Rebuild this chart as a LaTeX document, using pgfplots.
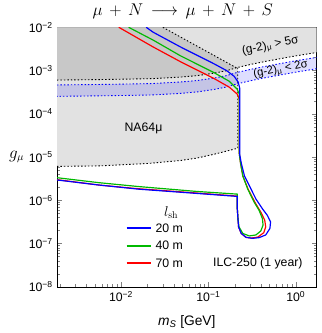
\documentclass[border=0pt]{standalone}
\usepackage{pgfplots}
\pgfplotsset{compat=1.18}
\usepackage[no-math]{fontspec}
\setmainfont{Liberation Sans}
\definecolor{cgreen}{RGB}{0,185,0}
\definecolor{cblue}{RGB}{0,0,255}
\definecolor{cred}{RGB}{255,0,0}
\definecolor{lgray}{RGB}{226,226,226}
\definecolor{dgray}{RGB}{200,200,200}
\begin{document}
\fontsize{12.5}{15}\selectfont
\begin{tikzpicture}
\begin{axis}[
  width=264pt, height=264pt, scale only axis,
  xmode=log, ymode=log,
  xmin=1.85e-3, xmax=1.73,
  ymin=1e-8, ymax=1e-2,
  log base 10 number format code/.code={\pgfmathparse{int(round(#1))}\let\myexp\pgfmathresult
    10\textsuperscript{\ifnum\myexp<0 −\pgfmathparse{int(-\myexp)}\pgfmathresult\else\myexp\fi}},
  title={\fontsize{17.28}{20}\selectfont$\mu\,+\,N\,\longrightarrow\,\mu\,+\,N\,+\,S$},
  title style={at={(rel axis cs:0.5,1)}, anchor=center, yshift=10pt, xshift=-4pt},
  xlabel={\fontsize{14}{16}\selectfont\textit{m}\textsubscript{\textit{S}} [GeV]},
  xlabel style={at={(rel axis cs:0.5,0)}, anchor=center, yshift=-36pt},
  ylabel={\fontsize{16}{18}\selectfont$g_\mu$},
  ylabel style={rotate=-90, at={(rel axis cs:0,0.5)}, anchor=center, xshift=-41pt},
  major tick length=5pt, minor tick length=3pt,
]
% (g-2) > 5 sigma region
\addplot[fill=lgray, draw=none] coordinates {
  (1.85e-3,6.02e-4) (5.62e-3,6.18e-4) (0.0122,6.34e-4) (0.0233,6.51e-4) (0.0479,7.05e-4)
  (0.0743,7.62e-4) (0.1153,8.68e-4) (0.1612,9.9e-4) (0.2087,1.16e-3) (0.3074,1.39e-3)
  (0.4527,1.63e-3) (0.982,2.17e-3) (1.733,2.61e-3) (1.733,1e-2) (1.85e-3,1e-2)} -- cycle;
% NA64mu region
\addplot[fill=lgray, draw=none] coordinates {
  (1.85e-3,6.08e-6) (5.62e-3,6.24e-6) (0.0205,7.11e-6) (0.0479,8.32e-6) (0.0743,9.48e-6)
  (0.1246,1.20e-5) (0.217,1.60e-5) (0.217,1.16e-3) (1.85e-3,1.16e-3)} -- cycle;
% overlap region
\addplot[fill=dgray, draw=none] coordinates {
  (0.0301,1e-2) (0.2087,1.16e-3) (0.1612,9.9e-4) (0.1153,8.68e-4) (0.0743,7.62e-4)
  (0.0479,7.05e-4) (0.0233,6.51e-4) (0.0122,6.34e-4) (5.62e-3,6.18e-4) (1.85e-3,6.02e-4)
  (1.85e-3,1e-2)} -- cycle;
% (g-2) 2 sigma band
\addplot[fill=blue, fill opacity=0.13, draw=none] coordinates {
  (1.85e-3,4.64e-4) (5.62e-3,4.76e-4) (0.0122,4.88e-4) (0.0233,5.01e-4) (0.0479,5.43e-4)
  (0.0743,5.87e-4) (0.1153,6.68e-4) (0.1612,7.62e-4) (0.2087,8.93e-4) (0.3074,1.07e-3)
  (0.4527,1.255e-3) (0.982,1.67e-3) (1.733,2.01e-3)
  (1.733,1.10e-3) (0.982,9.11e-4) (0.4527,6.85e-4) (0.3074,5.84e-4) (0.2087,4.87e-4)
  (0.1612,4.16e-4) (0.1153,3.65e-4) (0.0743,3.20e-4) (0.0479,2.96e-4) (0.0233,2.73e-4)
  (0.0122,2.66e-4) (5.62e-3,2.60e-4) (1.85e-3,2.53e-4)} -- cycle;
% boundaries
\addplot[black, line width=0.9pt, dash pattern=on 1.5pt off 2pt] coordinates {
  (1.85e-3,6.02e-4) (5.62e-3,6.18e-4) (0.0122,6.34e-4) (0.0233,6.51e-4) (0.0479,7.05e-4)
  (0.0743,7.62e-4) (0.1153,8.68e-4) (0.1612,9.9e-4) (0.2087,1.16e-3) (0.3074,1.39e-3)
  (0.4527,1.63e-3) (0.982,2.17e-3) (1.733,2.61e-3)};
\addplot[black, line width=0.9pt, dash pattern=on 1.5pt off 2pt] coordinates {
  (0.0301,1e-2) (0.2087,1.16e-3)};
\addplot[black, line width=0.9pt, dash pattern=on 1.5pt off 2pt] coordinates {
  (1.85e-3,6.08e-6) (5.62e-3,6.24e-6) (0.0205,7.11e-6) (0.0479,8.32e-6) (0.0743,9.48e-6)
  (0.1246,1.20e-5) (0.217,1.60e-5) (0.217,1.16e-3)};
\addplot[cblue, line width=0.9pt, dash pattern=on 1.5pt off 2pt] coordinates {
  (1.85e-3,4.64e-4) (5.62e-3,4.76e-4) (0.0122,4.88e-4) (0.0233,5.01e-4) (0.0479,5.43e-4)
  (0.0743,5.87e-4) (0.1153,6.68e-4) (0.1612,7.62e-4) (0.2087,8.93e-4) (0.3074,1.07e-3)
  (0.4527,1.255e-3) (0.982,1.67e-3) (1.733,2.01e-3)};
\addplot[cblue, line width=0.9pt, dash pattern=on 1.5pt off 2pt] coordinates {
  (1.733,1.10e-3) (0.982,9.11e-4) (0.4527,6.85e-4) (0.3074,5.84e-4) (0.2087,4.87e-4)
  (0.1612,4.16e-4) (0.1153,3.65e-4) (0.0743,3.20e-4) (0.0479,2.96e-4) (0.0233,2.73e-4)
  (0.0122,2.66e-4) (5.62e-3,2.60e-4) (1.85e-3,2.53e-4)};
% sensitivity contours (l_sh = 70 m, 40 m, 20 m)
\addplot[cred, line width=1.2pt] coordinates {
  (0.00942,1e-2) (0.0233,3.51e-3) (0.0479,1.60e-3) (0.1153,6.58e-4) (0.174,4.11e-4)
  (0.2141,2.85e-4) (0.2255,2.19e-4) (0.2255,1.23e-5) (0.2333,7.31e-6) (0.248,3.64e-6)
  (0.285,1.81e-6) (0.341,9.0e-7) (0.398,5.33e-7) (0.441,3.51e-7) (0.453,2.43e-7)
  (0.430,1.78e-7) (0.368,1.41e-7) (0.308,1.34e-7) (0.270,1.39e-7) (0.2377,1.71e-7)
  (0.2216,2.43e-7) (0.218,3.76e-7) (0.2143,6.34e-7) (0.2143,1.25e-6) (0.0743,1.47e-6)
  (0.0158,1.85e-6) (5.62e-3,2.25e-6) (1.85e-3,3.0e-6)};
\addplot[cgreen, line width=1.2pt] coordinates {
  (0.0122,1e-2) (0.0233,5.06e-3) (0.0479,2.19e-3) (0.1153,9.0e-4) (0.174,5.62e-4)
  (0.2141,3.70e-4) (0.2255,2.85e-4) (0.2255,1.23e-5) (0.2333,7.31e-6) (0.248,3.64e-6)
  (0.2823,1.81e-6) (0.3346,9.0e-7) (0.381,5.83e-7) (0.4157,3.76e-7) (0.4223,2.66e-7)
  (0.398,1.95e-7) (0.35,1.58e-7) (0.294,1.50e-7) (0.248,1.71e-7) (0.224,2.43e-7)
  (0.218,3.76e-7) (0.2143,6.34e-7) (0.2143,1.39e-6) (0.0743,1.60e-6) (0.0158,2.08e-6)
  (5.62e-3,2.55e-6) (1.85e-3,3.33e-6)};
\addplot[cblue, line width=1.2pt] coordinates {
  (0.0194,1e-2) (0.0233,7.7e-3) (0.0479,3.51e-3) (0.1153,1.44e-3) (0.1612,1.0e-3)
  (0.198,7.31e-4) (0.2198,5.34e-4) (0.2286,3.90e-4) (0.2286,1.13e-5) (0.2377,7.31e-6)
  (0.259,3.64e-6) (0.308,1.81e-6) (0.350,1.07e-6) (0.416,6.34e-7) (0.473,4.49e-7)
  (0.515,3.16e-7) (0.506,2.23e-7) (0.453,1.58e-7) (0.381,1.37e-7) (0.321,1.32e-7)
  (0.270,1.39e-7) (0.2377,1.71e-7) (0.2216,2.43e-7) (0.218,3.76e-7) (0.2143,6.34e-7)
  (0.2143,1.23e-6) (0.0743,1.44e-6) (0.0158,1.81e-6) (5.62e-3,2.25e-6) (1.85e-3,2.95e-6)};
% legend samples
\addplot[color=cblue, line width=1.6pt] coordinates {(0.01159,2.31e-7) (0.0221,2.31e-7)};
\addplot[color=cgreen, line width=1.8pt] coordinates {(0.01159,8.8e-8) (0.0221,8.8e-8)};
\addplot[color=cred, line width=1.6pt] coordinates {(0.01159,3.51e-8) (0.0221,3.51e-8)};
\node at (rel axis cs:0.44,0.285) {\fontsize{14}{16}\selectfont$l_{\mathrm{sh}}$};
\node[anchor=west, inner sep=0pt] at (rel axis cs:0.379,0.227) {20 m};
\node[anchor=west, inner sep=0pt] at (rel axis cs:0.379,0.159) {40 m};
\node[anchor=west, inner sep=0pt] at (rel axis cs:0.379,0.091) {70 m};
% labels
\node at (rel axis cs:0.333,0.610) {NA64μ};
\node[anchor=east, inner sep=0pt] at (rel axis cs:0.947,0.089) {ILC-250 (1 year)};
\node[rotate=11, font=\fontsize{12}{14}\selectfont] at (rel axis cs:0.822,0.928) {(g-2)\textsubscript{μ} > 5σ};
\node[rotate=11, font=\fontsize{11.5}{14}\selectfont] at (rel axis cs:0.862,0.836) {(g-2)\textsubscript{μ} < 2σ};
\end{axis}
\path (current axis.south west) ++(-58pt,-47pt) coordinate (bl);
\path (current axis.north east) ++(5pt,22pt) coordinate (tr);
\path (bl) rectangle (tr);
\end{tikzpicture}
\end{document}
